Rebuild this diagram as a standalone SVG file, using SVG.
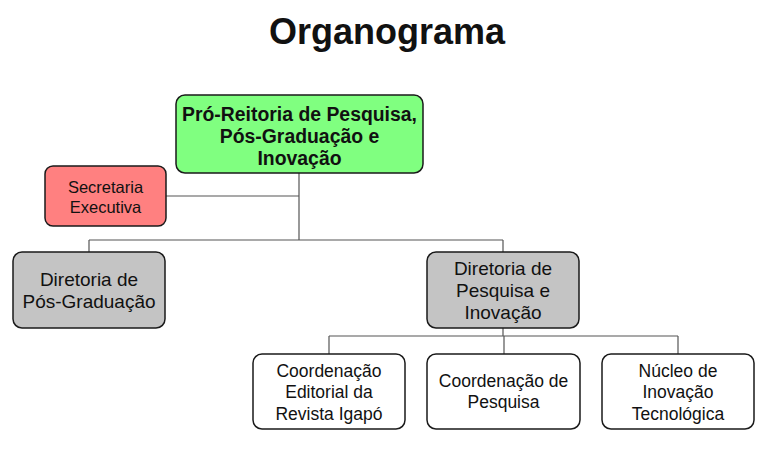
<svg xmlns="http://www.w3.org/2000/svg" width="768" height="450" viewBox="0 0 768 450">
<style>
.box{stroke:#1a1a1a;stroke-width:1.5}
.t{font-family:"Liberation Sans",Arial,sans-serif;text-anchor:middle;fill:#111}
.b{font-weight:bold}
.c{fill:none;stroke:#555;stroke-width:1.2}
</style>
<rect width="768" height="450" fill="#fff"/>
<text class="t b" x="387" y="44" font-size="36">Organograma</text>
<g id="connectors">
<path class="c" d="M299 173 V240 M166 196 H299 M89 240 H503 M89 240 V252 M503 240 V252 M503 328 V336 M329 336 H678 M329 336 V354 M504 336 V354 M678 336 V354"/>
</g>
<g id="proreitoria">
<rect class="box" x="176" y="95" width="247" height="78" rx="9" fill="#80ff80"/>
<text class="t b" font-size="19.4"><tspan x="299.5" y="121">Pró-Reitoria de Pesquisa,</tspan><tspan x="299.5" y="143">Pós-Graduação e</tspan><tspan x="299.5" y="165">Inovação</tspan></text>
</g>
<g id="secretaria">
<rect class="box" x="45" y="166" width="121" height="60" rx="8" fill="#ff8080"/>
<text class="t" font-size="16.5"><tspan x="105.5" y="193">Secretaria</tspan><tspan x="105.5" y="213">Executiva</tspan></text>
</g>
<g id="dir-pos">
<rect class="box" x="13" y="252" width="152" height="76" rx="9" fill="#c4c4c4"/>
<text class="t" font-size="19"><tspan x="89" y="286">Diretoria de</tspan><tspan x="89" y="308">Pós-Graduação</tspan></text>
</g>
<g id="dir-pesq">
<rect class="box" x="427" y="252" width="152" height="76" rx="9" fill="#c4c4c4"/>
<text class="t" font-size="19"><tspan x="503" y="275">Diretoria de</tspan><tspan x="503" y="297">Pesquisa e</tspan><tspan x="503" y="319">Inovação</tspan></text>
</g>
<g id="coord-editorial">
<rect class="box" x="253" y="354" width="152" height="75" rx="9" fill="#fff"/>
<text class="t" font-size="17.5"><tspan x="329" y="377">Coordenação</tspan><tspan x="329" y="398">Editorial da</tspan><tspan x="329" y="420">Revista Igapó</tspan></text>
</g>
<g id="coord-pesquisa">
<rect class="box" x="427" y="354" width="153" height="75" rx="9" fill="#fff"/>
<text class="t" font-size="17.5"><tspan x="503.5" y="387">Coordenação de</tspan><tspan x="503.5" y="408">Pesquisa</tspan></text>
</g>
<g id="nucleo">
<rect class="box" x="602" y="354" width="152" height="75" rx="9" fill="#fff"/>
<text class="t" font-size="17.5"><tspan x="678" y="377">Núcleo de</tspan><tspan x="678" y="398">Inovação</tspan><tspan x="678" y="420">Tecnológica</tspan></text>
</g>
</svg>
